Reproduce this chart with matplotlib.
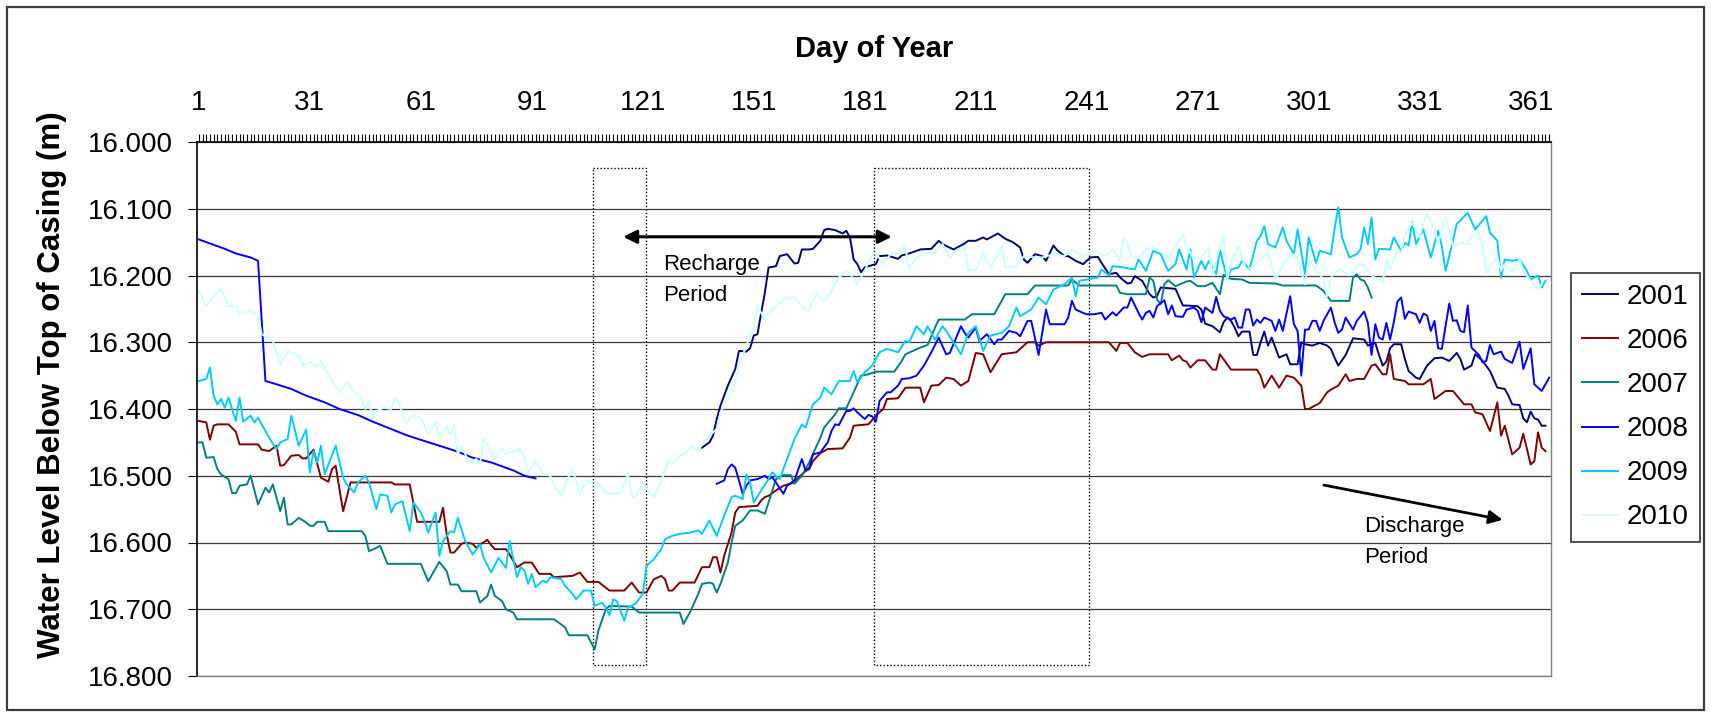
import numpy as np
import matplotlib
matplotlib.use("Agg")
from matplotlib import pyplot as plt
from matplotlib.patches import Rectangle
from matplotlib.ticker import FixedLocator, MultipleLocator, FormatStrFormatter

plt.rcParams['font.family'] = ['Liberation Sans', 'DejaVu Sans']

# data (day of year, water level below top of casing [m])
#############################################################
day_2001 = [137,139,140,141,142,143,144,146,147,149,150,151,152,153,154,155,157,158,160,162,
            163,164,166,167,169,170,171,173,175,176,177,178,179,180,181,182,184,185,187,190,
            191,193,196,199,201,202,205,208,209,211,213,214,215,217,219,221,223,224,225,227,
            229,230,232,233,235,236,238,240,242,244,245,247,249,250,252,253,254,256,258,259,
            260,261,265,267,268,271,272,273,275,277,278,279,280,281,282,283,285,286,287,288,
            289,290,291,293,295,296,298,299,300,302,304,306,307,308,309,311,313,316,317,319,
            320,321,322,323,324,326,327,328,330,331,333,335,337,339,341,342,343,345,346,348,
            350,352,354,355,356,358,359,360,361,362,363,364,365]
lvl_2001 = [16.458,16.450,16.440,16.415,16.395,16.380,16.365,16.340,16.313,16.314,16.309,16.290,16.288,16.256,16.226,16.188,16.186,16.171,16.168,16.182,
            16.181,16.161,16.161,16.160,16.148,16.132,16.130,16.132,16.137,16.133,16.143,16.176,16.183,16.195,16.188,16.186,16.183,16.171,16.170,16.175,
            16.170,16.167,16.161,16.160,16.148,16.153,16.161,16.152,16.148,16.148,16.143,16.146,16.143,16.137,16.145,16.150,16.158,16.176,16.181,16.168,
            16.171,16.178,16.155,16.162,16.171,16.171,16.178,16.183,16.173,16.172,16.181,16.198,16.196,16.203,16.212,16.211,16.201,16.208,16.228,16.233,
            16.231,16.218,16.220,16.245,16.245,16.246,16.251,16.272,16.276,16.285,16.270,16.263,16.268,16.278,16.291,16.284,16.284,16.319,16.319,16.300,
            16.284,16.305,16.293,16.323,16.318,16.333,16.333,16.300,16.303,16.305,16.301,16.305,16.310,16.323,16.335,16.319,16.294,16.296,16.305,16.301,
            16.319,16.335,16.329,16.309,16.303,16.303,16.325,16.343,16.353,16.355,16.335,16.324,16.323,16.328,16.316,16.325,16.341,16.335,16.318,16.328,
            16.343,16.368,16.370,16.380,16.393,16.394,16.414,16.420,16.404,16.414,16.416,16.425,16.425]

day_2006 = [1,3,4,5,6,9,11,12,17,18,20,22,23,24,26,28,29,30,32,34,36,37,38,39,40,42,53,54,58,60,
            66,67,68,69,70,72,73,75,76,77,79,80,81,84,85,87,89,91,93,96,97,102,104,106,109,112,116,118,120,122,
            124,126,127,128,129,131,135,137,139,140,141,142,143,145,146,147,152,153,154,155,157,159,162,163,165,166,167,169,171,175,
            177,178,182,184,186,187,190,192,196,197,199,201,203,205,207,209,211,213,215,218,222,225,227,228,230,247,249,250,252,254,
            256,258,263,264,266,267,268,269,271,273,275,276,277,280,287,288,289,291,293,295,297,299,300,301,304,306,307,308,309,311,
            312,314,316,318,319,321,322,323,324,327,328,332,334,335,338,340,343,345,346,348,350,352,353,354,356,358,359,361,362,363,364,365]
lvl_2006 = [16.418,16.420,16.446,16.425,16.423,16.423,16.434,16.453,16.453,16.461,16.463,16.455,16.485,16.484,16.470,16.469,16.474,16.474,16.461,16.503,
            16.509,16.490,16.485,16.520,16.553,16.510,16.510,16.513,16.513,16.569,16.569,16.548,16.588,16.615,16.615,16.602,16.600,16.602,16.608,16.603,
            16.596,16.604,16.610,16.610,16.618,16.637,16.630,16.630,16.647,16.647,16.652,16.650,16.645,16.659,16.659,16.672,16.672,16.660,16.675,16.675,
            16.655,16.650,16.655,16.672,16.672,16.660,16.660,16.637,16.637,16.622,16.622,16.645,16.620,16.585,16.555,16.547,16.545,16.537,16.532,16.530,
            16.522,16.515,16.510,16.503,16.493,16.490,16.478,16.466,16.460,16.459,16.443,16.425,16.423,16.410,16.400,16.385,16.384,16.368,16.368,16.390,
            16.365,16.364,16.353,16.355,16.365,16.358,16.316,16.318,16.345,16.318,16.315,16.300,16.300,16.305,16.300,16.300,16.313,16.301,16.301,16.315,
            16.322,16.318,16.318,16.327,16.320,16.327,16.329,16.338,16.327,16.327,16.341,16.341,16.318,16.341,16.341,16.350,16.368,16.350,16.368,16.350,
            16.353,16.365,16.400,16.400,16.391,16.375,16.371,16.368,16.365,16.348,16.358,16.355,16.355,16.335,16.333,16.348,16.348,16.318,16.355,16.358,
            16.363,16.363,16.355,16.385,16.373,16.373,16.393,16.393,16.405,16.408,16.433,16.390,16.440,16.425,16.468,16.458,16.437,16.483,16.478,16.435,
            16.458,16.463]

day_2007 = [1,2,3,5,6,7,9,10,11,12,14,15,17,19,20,21,23,24,25,26,28,30,31,32,33,35,36,45,46,47,
            49,50,52,61,63,66,68,69,71,72,76,77,79,80,81,83,84,86,87,97,100,101,106,108,109,111,112,118,120,131,
            132,134,136,137,139,140,141,142,144,145,146,148,150,152,154,155,157,159,161,162,164,165,166,168,169,170,173,174,176,178,
            180,182,184,189,191,192,196,198,200,201,208,210,216,219,225,227,236,237,239,249,250,252,257,258,259,260,261,262,263,265,
            268,269,271,273,275,277,278,280,283,285,292,294,303,305,307,312,313,314,315,316,317,318]
lvl_2007 = [16.450,16.450,16.473,16.472,16.490,16.498,16.505,16.526,16.526,16.515,16.513,16.500,16.543,16.518,16.525,16.513,16.553,16.533,16.573,16.573,
            16.563,16.570,16.575,16.575,16.569,16.569,16.583,16.583,16.590,16.613,16.608,16.605,16.632,16.632,16.658,16.629,16.643,16.663,16.663,16.673,
            16.673,16.690,16.680,16.663,16.680,16.688,16.700,16.705,16.715,16.715,16.727,16.739,16.739,16.760,16.732,16.700,16.695,16.696,16.705,16.705,
            16.722,16.702,16.677,16.662,16.660,16.662,16.675,16.662,16.630,16.600,16.575,16.567,16.552,16.552,16.557,16.540,16.505,16.499,16.499,16.512,
            16.500,16.490,16.480,16.455,16.443,16.428,16.408,16.399,16.399,16.375,16.350,16.348,16.344,16.344,16.328,16.318,16.308,16.304,16.278,16.266,
            16.266,16.258,16.258,16.228,16.228,16.215,16.215,16.206,16.215,16.215,16.226,16.228,16.228,16.203,16.208,16.236,16.243,16.213,16.207,16.216,
            16.209,16.208,16.216,16.216,16.211,16.228,16.199,16.205,16.206,16.211,16.212,16.215,16.215,16.223,16.238,16.238,16.203,16.198,16.206,16.208,
            16.218,16.233]

day_2008 = [1,4,8,11,15,17,19,22,26,30,35,39,44,48,53,57,62,66,71,75,80,84,86,89,92,93,
            141,143,144,145,146,147,148,149,150,152,154,155,156,157,159,160,162,164,165,166,167,169,171,172,
            173,174,176,177,178,179,181,182,183,184,185,187,188,190,191,193,195,197,199,201,203,204,207,208,
            209,211,212,214,216,217,218,220,222,223,225,226,228,230,231,235,236,237,238,240,241,243,245,246,
            248,249,251,252,253,255,256,257,258,259,260,262,263,264,265,267,268,270,271,272,273,275,276,277,
            278,280,281,282,283,284,285,286,287,288,289,291,292,293,294,296,297,298,299,300,301,302,303,304,
            305,307,308,309,310,311,313,314,316,317,318,319,320,321,322,323,324,325,326,327,328,330,331,332,
            333,334,335,336,337,339,340,341,342,343,344,345,347,348,349,350,351,353,354,356,358,359,361,362,364,366]
lvl_2008 = [16.146,16.152,16.160,16.167,16.173,16.178,16.358,16.363,16.370,16.380,16.390,16.400,16.409,16.419,16.430,16.439,16.448,16.455,16.464,16.473,
            16.480,16.488,16.492,16.500,16.504,np.nan,
            16.512,16.507,16.490,16.483,16.488,16.507,16.527,16.515,16.507,16.505,16.500,16.505,16.502,16.510,16.527,16.515,16.507,16.475,16.492,16.488,
            16.468,16.465,16.450,16.433,16.423,16.424,16.403,16.403,16.399,16.405,16.415,16.409,16.411,16.419,16.388,16.375,16.375,16.365,16.355,16.354,
            16.350,16.335,16.315,16.293,16.318,16.316,16.276,16.286,16.293,16.278,16.298,16.288,16.303,16.296,16.296,16.283,16.286,16.291,16.268,16.268,
            16.319,16.251,16.273,16.273,16.263,16.238,16.251,16.256,16.258,16.258,16.256,16.266,16.255,16.260,16.248,16.248,16.233,16.256,16.266,16.256,
            16.253,16.263,16.246,16.237,16.258,16.245,16.261,16.262,16.251,16.248,16.253,16.270,16.248,16.256,16.232,16.253,16.261,16.266,16.263,16.278,
            16.278,16.251,16.251,16.275,16.266,16.271,16.263,16.268,16.283,16.266,16.283,16.231,16.273,16.283,16.350,16.281,16.281,16.268,16.268,16.283,
            16.268,16.248,16.270,16.286,16.281,16.263,16.281,16.268,16.254,16.271,16.319,16.273,16.293,16.296,16.271,16.296,16.270,16.239,16.233,16.265,
            16.254,16.258,16.271,16.257,16.260,16.283,16.268,16.309,16.310,16.242,16.268,16.267,16.283,16.285,16.245,16.308,16.319,16.330,16.328,16.304,
            16.318,16.314,16.325,16.331,16.299,16.340,16.309,16.363,16.373,16.353]

day_2009 = [1,3,4,5,6,7,8,9,11,12,13,15,16,17,19,20,22,23,25,26,28,30,31,32,33,34,35,38,40,41,
            43,44,46,47,49,50,52,53,54,56,58,59,61,62,63,65,66,67,69,70,71,73,75,77,78,80,82,84,85,87,
            88,89,90,91,92,94,95,96,99,100,102,103,105,107,108,110,111,112,113,114,116,117,119,121,122,124,126,127,129,131,
            134,136,137,139,141,143,145,146,148,149,150,151,153,155,156,158,160,162,164,165,167,169,170,172,174,177,178,179,181,183,
            185,187,190,192,193,195,197,198,200,202,203,205,207,209,211,213,215,218,220,222,223,226,228,230,232,235,237,238,239,241,
            244,245,247,248,251,254,255,257,259,261,263,265,266,268,269,270,272,273,274,276,277,279,280,282,283,285,287,288,289,290,
            292,294,295,297,298,300,301,303,304,307,308,309,310,312,314,315,316,317,318,319,320,323,324,326,327,328,329,330,332,334,
            336,337,338,340,341,344,346,349,350,352,353,354,356,358,360,361,363,364,365]
lvl_2009 = [16.358,16.355,16.338,16.380,16.393,16.385,16.398,16.383,16.418,16.383,16.419,16.410,16.420,16.413,16.433,16.443,16.460,16.450,16.445,16.410,
            16.455,16.431,16.495,16.463,16.480,16.455,16.498,16.455,16.503,16.513,16.525,16.510,16.500,16.510,16.550,16.528,16.530,16.555,16.543,16.538,
            16.583,16.540,16.555,16.568,16.585,16.555,16.620,16.598,16.583,16.585,16.563,16.598,16.618,16.603,16.623,16.645,16.623,16.638,16.598,16.652,
            16.637,16.642,16.662,16.647,16.667,16.657,16.660,16.652,16.655,16.665,16.677,16.685,16.672,16.672,16.695,16.690,16.697,16.709,16.685,16.688,
            16.717,16.697,16.692,16.677,16.635,16.625,16.610,16.595,16.590,16.587,16.585,16.582,16.587,16.567,16.590,16.560,16.532,16.530,16.535,16.498,
            16.510,16.540,16.522,16.505,16.495,16.505,16.475,16.445,16.423,16.428,16.393,16.383,16.368,16.378,16.358,16.358,16.343,16.360,16.345,16.335,
            16.315,16.310,16.315,16.298,16.300,16.276,16.288,16.276,16.296,16.276,16.283,16.300,16.318,16.286,16.276,16.313,16.290,16.286,16.276,16.248,
            16.261,16.251,16.233,16.243,16.221,16.213,16.203,16.231,16.208,16.206,16.203,16.191,16.200,16.186,16.188,16.191,16.176,16.193,16.163,16.168,
            16.193,16.183,16.161,16.191,16.161,16.203,16.178,16.191,16.178,16.198,16.161,16.206,16.191,16.188,16.178,16.191,16.148,16.141,16.126,16.153,
            16.158,16.128,16.148,16.168,16.131,16.198,16.143,16.181,16.163,16.168,16.130,16.098,16.143,16.173,16.168,16.161,16.128,16.153,16.113,16.176,
            16.160,16.161,16.143,16.163,16.151,16.155,16.120,16.153,16.131,16.173,16.133,16.156,16.193,16.148,16.123,16.106,16.131,16.111,16.136,16.148,
            16.203,16.176,16.178,16.176,16.193,16.206,16.200,16.218,16.208]

day_2010 = [1,3,7,9,11,12,15,17,18,21,23,25,28,29,31,33,34,37,39,41,43,45,46,47,48,49,51,53,54,55,
            57,59,61,63,65,66,68,69,70,71,72,74,76,77,78,81,83,84,86,88,89,90,92,94,96,97,99,100,102,104,
            106,108,109,111,113,115,117,118,119,121,123,124,126,128,129,131,133,134,136,137,139,141,142,144,146,147,149,151,152,154,
            155,158,160,162,164,165,166,168,170,172,174,176,177,179,181,183,184,186,188,190,192,193,195,198,200,202,204,206,208,209,
            211,213,215,218,219,222,224,227,229,232,235,237,240,243,244,246,248,250,251,252,253,255,257,259,261,263,265,267,268,270,
            272,274,275,276,278,279,280,282,284,286,288,290,292,294,295,297,298,300,301,303,305,306,307,309,310,312,315,317,318,321,
            322,323,325,326,327,329,331,332,333,335,336,338,340,342,344,345,347,348,349,350,352,353,354,356,358,359,361,363,364]
lvl_2010 = [16.223,16.245,16.219,16.246,16.245,16.258,16.252,16.261,16.288,16.298,16.334,16.313,16.320,16.335,16.329,16.338,16.328,16.358,16.375,16.360,
            16.373,16.385,16.400,16.388,16.415,16.403,16.398,16.400,16.383,16.390,16.420,16.410,16.413,16.438,16.420,16.443,16.425,16.440,16.423,16.468,
            16.455,16.480,16.475,16.483,16.443,16.475,16.458,16.468,16.463,16.461,16.473,16.495,16.478,16.497,16.500,16.515,16.530,16.512,16.490,16.527,
            16.507,16.515,16.512,16.525,16.527,16.525,16.497,16.530,16.532,16.510,16.527,16.532,16.507,16.478,16.483,16.470,16.465,16.455,16.463,16.453,
            16.440,16.430,16.405,16.385,16.360,16.335,16.305,16.276,16.246,16.266,16.256,16.241,16.233,16.233,16.245,16.251,16.251,16.226,16.238,16.223,
            16.203,16.193,16.198,16.213,16.193,16.168,16.166,16.183,16.168,16.166,16.158,16.191,16.173,16.166,16.166,16.153,16.173,16.161,16.158,16.191,
            16.193,16.166,16.188,16.156,16.188,16.186,16.171,16.173,16.173,16.168,16.171,16.161,16.171,16.163,16.166,16.171,16.161,16.178,16.143,16.151,
            16.171,16.173,16.161,16.158,16.163,16.173,16.156,16.138,16.156,16.176,16.173,16.158,16.200,16.176,16.138,16.206,16.178,16.156,16.191,16.188,
            16.176,16.166,16.206,16.186,16.176,16.168,16.178,16.213,16.176,16.191,16.206,16.231,16.203,16.191,16.193,16.200,16.181,16.191,16.200,16.210,
            16.176,16.191,16.163,16.166,16.138,16.121,16.143,16.121,16.108,16.131,16.151,16.113,16.156,16.151,16.153,16.141,16.136,16.156,16.196,16.186,
            16.173,16.193,16.183,16.196,16.176,16.193,16.208,16.221,16.213]

years = ['2001', '2006', '2007', '2008', '2009', '2010']
days = [day_2001, day_2006, day_2007, day_2008, day_2009, day_2010]
levels = [lvl_2001, lvl_2006, lvl_2007, lvl_2008, lvl_2009, lvl_2010]
colors = ['#000080', '#800000', '#008080', '#0000FF', '#00CCFF', '#CCFFFF']

day_ticks = list(range(1, 366, 30))
#############################################################

fig = plt.figure(figsize=(17.11, 7.17), dpi=100)
ax = fig.add_axes([197/1711, 1 - 676/717, 1354/1711, 534/717])

for d, v, c, lab in zip(days, levels, colors, years):
    ax.plot(d, v, color=c, lw=1.4, label=lab)

ax.set_xlim(0.5, 366.5)
ax.set_ylim(16.8, 16.0)

# axes on top / left, excel-like
ax.xaxis.tick_top()
ax.xaxis.set_label_position('top')
ax.xaxis.set_major_locator(FixedLocator(day_ticks))
ax.xaxis.set_minor_locator(MultipleLocator(1))
ax.yaxis.set_major_locator(MultipleLocator(0.1))
ax.yaxis.set_major_formatter(FormatStrFormatter('%.3f'))
ax.tick_params(axis='x', which='both', direction='out', length=6, width=0.8,
               labelsize=20, pad=12.5, top=True, bottom=False)
ax.tick_params(axis='y', which='major', direction='out', length=6.3, width=0.8,
               labelsize=20, pad=11)
ax.grid(axis='y', color='#3a3a3a', lw=0.9)

for s in ['top', 'left']:
    ax.spines[s].set_color('black')
    ax.spines[s].set_linewidth(1.2)
for s in ['right', 'bottom']:
    ax.spines[s].set_color('#808080')
    ax.spines[s].set_linewidth(1.0)

ax.set_xlabel('Day of Year', fontsize=21, fontweight='bold')
ax.xaxis.label.set_va('center')
ax.xaxis.set_label_coords(0.5, (676 - 49) / 534)
ax.set_ylabel('Water Level Below Top of Casing (m)', fontsize=22.5, fontweight='bold')
ax.yaxis.label.set_va('center')
ax.yaxis.set_label_coords((51.7 - 197) / 1354, (676 - 385) / 534)

# dotted windows
for x0, x1 in [(107.6, 121.8), (183.5, 241.7)]:
    ax.add_patch(Rectangle((x0, 16.039), x1 - x0, 16.783 - 16.039, fill=False,
                           ls=(0, (1, 1.5)), lw=1.0, ec='black', zorder=1))

# annotations
ax.annotate('', xy=(188.3, 16.142), xytext=(115.7, 16.142),
            arrowprops=dict(arrowstyle='<|-|>', color='black', lw=2.2,
                            mutation_scale=20, shrinkA=0, shrinkB=0))
ax.text(126.5, 16.192, 'Recharge', fontsize=16, va='baseline')
ax.text(126.5, 16.238, 'Period', fontsize=16, va='baseline')
ax.annotate('', xy=(353.4, 16.566), xytext=(305.1, 16.514),
            arrowprops=dict(arrowstyle='-|>', color='black', lw=2.0,
                            mutation_scale=20, shrinkA=0, shrinkB=0))
ax.text(315.9, 16.585, 'Discharge', fontsize=16, va='baseline')
ax.text(315.9, 16.630, 'Period', fontsize=16, va='baseline')

leg = ax.legend(loc='upper left', bbox_to_anchor=(1571/1711, 1 - 273/717),
                bbox_transform=fig.transFigure, borderaxespad=0, fontsize=20,
                frameon=True, fancybox=False, handlelength=1.3, handletextpad=0.3,
                labelspacing=0.65, borderpad=0.4)
leg.get_frame().set_edgecolor('black')
leg.get_frame().set_linewidth(1.2)

# chart area border
fig.patches.append(Rectangle((7/1711, 7/717), 1697/1711, 703/717, transform=fig.transFigure,
                             fill=False, ec='#3c3c3c', lw=1.6))

fig.savefig('out.png', dpi=100)
